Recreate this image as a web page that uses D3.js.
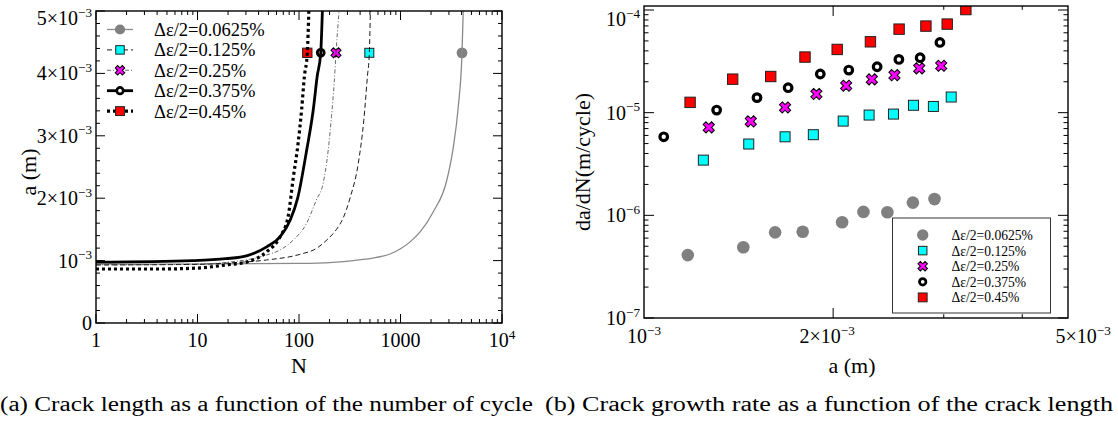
<!DOCTYPE html>
<html><head><meta charset="utf-8">
<script src="https://cdn.jsdelivr.net/npm/d3@7/dist/d3.min.js"></script>
<style>
html,body{margin:0;padding:0;background:#fff;}
svg{display:block;}
</style></head>
<body>
<svg id="chart" width="1118" height="425"></svg>
<script>
// ---------------- DATA ----------------
const seriesLabels = ["Δε/2=0.0625%", "Δε/2=0.125%", "Δε/2=0.25%", "Δε/2=0.375%", "Δε/2=0.45%"];

// (a) crack length a (m) vs number of cycles N
const curveN_0625 = [1, 10, 100, 216, 343, 580, 800, 1000, 1244, 1560, 2100, 2850, 3300, 3700, 4036, 4150];
const curveA_0625 = [0.945e-3, 0.945e-3, 0.955e-3, 0.973e-3, 1.0e-3, 1.05e-3, 1.11e-3, 1.19e-3, 1.30e-3, 1.46e-3, 1.78e-3, 2.28e-3, 2.8e-3, 3.45e-3, 4.33e-3, 5.0e-3];
const curveN_125 = [1, 10, 19, 48, 102, 150, 188, 234, 272, 318, 383, 435, 472, 493, 505];
const curveA_125 = [0.93e-3, 0.94e-3, 0.96e-3, 1.01e-3, 1.10e-3, 1.2e-3, 1.33e-3, 1.5e-3, 1.68e-3, 2.0e-3, 2.55e-3, 3.25e-3, 3.95e-3, 4.33e-3, 5.0e-3];
const curveN_25 = [1, 10, 19, 48, 65, 88, 119, 148, 173, 194, 209, 222, 231.5, 248];
const curveA_25 = [0.93e-3, 0.945e-3, 0.97e-3, 1.09e-3, 1.17e-3, 1.33e-3, 1.60e-3, 1.97e-3, 2.24e-3, 2.77e-3, 3.31e-3, 3.84e-3, 4.33e-3, 5.0e-3];
const curveN_375 = [1, 9, 19, 31, 48, 65, 82, 97, 119, 138, 151, 163.7, 170];
const curveA_375 = [0.975e-3, 1.0e-3, 1.03e-3, 1.08e-3, 1.22e-3, 1.38e-3, 1.65e-3, 2.0e-3, 2.77e-3, 3.41e-3, 3.95e-3, 4.33e-3, 5.0e-3];
const curveN_45 = [1, 4, 10, 19, 31, 48, 65, 78, 88, 98, 106, 113, 120.7, 125];
const curveA_45 = [0.865e-3, 0.865e-3, 0.88e-3, 0.93e-3, 0.98e-3, 1.14e-3, 1.38e-3, 1.70e-3, 2.34e-3, 2.88e-3, 3.41e-3, 3.95e-3, 4.33e-3, 5.0e-3];
// one marker per curve
const markerN = [4036, 493, 231.5, 163.7, 120.7];
const markerA = [4.33e-3, 4.33e-3, 4.33e-3, 4.33e-3, 4.33e-3];

// (b) crack growth rate da/dN (m/cycle) vs crack length a (m)
const rateA_0625 = [1.174e-3, 1.439e-3, 1.617e-3, 1.789e-3, 2.067e-3, 2.235e-3, 2.440e-3, 2.679e-3, 2.900e-3];
const rate_0625 = [4.1e-7, 4.88e-7, 6.83e-7, 6.92e-7, 8.55e-7, 1.08e-6, 1.07e-6, 1.33e-6, 1.44e-6];
const rateA_125 = [1.243e-3, 1.468e-3, 1.677e-3, 1.860e-3, 2.075e-3, 2.282e-3, 2.495e-3, 2.685e-3, 2.888e-3, 3.083e-3];
const rate_125 = [3.45e-6, 4.95e-6, 5.82e-6, 6.1e-6, 8.28e-6, 9.48e-6, 9.69e-6, 1.18e-5, 1.15e-5, 1.42e-5];
const rateA_25 = [1.268e-3, 1.479e-3, 1.677e-3, 1.881e-3, 2.098e-3, 2.305e-3, 2.504e-3, 2.742e-3, 2.972e-3];
const rate_25 = [7.19e-6, 8.22e-6, 1.125e-5, 1.52e-5, 1.83e-5, 2.11e-5, 2.32e-5, 2.7e-5, 2.86e-5];
const rateA_375 = [1.075e-3, 1.305e-3, 1.513e-3, 1.696e-3, 1.908e-3, 2.118e-3, 2.350e-3, 2.545e-3, 2.751e-3, 2.958e-3];
const rate_375 = [5.82e-6, 1.06e-5, 1.40e-5, 1.75e-5, 2.38e-5, 2.60e-5, 2.80e-5, 3.30e-5, 3.43e-5, 4.83e-5];
const rateA_45 = [1.184e-3, 1.384e-3, 1.591e-3, 1.804e-3, 2.030e-3, 2.293e-3, 2.547e-3, 2.810e-3, 3.038e-3, 3.253e-3];
const rate_45 = [1.26e-5, 2.12e-5, 2.25e-5, 3.48e-5, 4.13e-5, 4.90e-5, 6.51e-5, 6.97e-5, 7.29e-5, 1.01e-4];

// ticks
const leftXTicks = [1, 10, 100, 1000, 10000];
const leftXLabels = ["1", "10", "100", "1000", "10^4"];
const leftYTicks = [0, 1e-3, 2e-3, 3e-3, 4e-3, 5e-3];
const leftYLabels = ["0", "10^−3", "2×10^−3", "3×10^−3", "4×10^−3", "5×10^−3"];
const rightXTicks = [1e-3, 2e-3, 5e-3];
const rightXLabels = ["10^−3", "2×10^−3", "5×10^−3"];
const rightXMinor = [3e-3, 4e-3];
const rightYTicks = [1e-7, 1e-6, 1e-5, 1e-4];
const rightYLabels = ["10^−7", "10^−6", "10^−5", "10^−4"];

// ---------------- DRAW ----------------
const svg = d3.select("#chart");
const FONT = "'Liberation Serif', serif";

function txt(g, x, y, size, anchor) {
  return g.append("text").attr("x", x).attr("y", y).attr("text-anchor", anchor || "start")
    .style("font-family", FONT).style("font-size", size + "px");
}
function mathText(sel, label, fs) {
  const parts = label.split("^");
  sel.append("tspan").text(parts[0]);
  if (parts.length > 1) {
    sel.append("tspan").style("font-size", (fs * 0.66) + "px").attr("dy", -fs * 0.42).text(parts[1]);
  }
}

const styles = [
  {stroke: "#8a8a8a", width: 1.3, dash: null},
  {stroke: "#000", width: 0.9, dash: "5,3"},
  {stroke: "#444", width: 0.8, dash: "4,2,1,2"},
  {stroke: "#000", width: 2.8, dash: null},
  {stroke: "#000", width: 3.2, dash: "3,3"}
];

function drawMarker(g, i, cx, cy, scale) {
  const s = scale;
  if (i === 0) {
    g.append("circle").attr("cx", cx).attr("cy", cy).attr("r", 6 * s).attr("fill", "#808080");
  } else if (i === 1) {
    g.append("rect").attr("x", cx - 5 * s).attr("y", cy - 5 * s).attr("width", 10 * s).attr("height", 10 * s)
      .attr("fill", "#00ffff").attr("stroke", "#222").attr("stroke-width", 1);
  } else if (i === 2) {
    g.append("path").attr("d", d3.symbol(d3.symbolCross, 78 * s * s)())
      .attr("transform", `translate(${cx},${cy}) rotate(45)`)
      .attr("fill", "#ff00ff").attr("stroke", "#000").attr("stroke-width", 1);
  } else if (i === 3) {
    g.append("circle").attr("cx", cx).attr("cy", cy).attr("r", 3.8 * s).attr("fill", "#fff")
      .attr("stroke", "#000").attr("stroke-width", 3.2 * s);
  } else {
    g.append("rect").attr("x", cx - 5.2 * s).attr("y", cy - 5.2 * s).attr("width", 10.4 * s).attr("height", 10.4 * s)
      .attr("fill", "#ff0000").attr("stroke", "#222").attr("stroke-width", 1);
  }
}

function hTicks(g, xs, scale, y0, y1, len) {
  xs.forEach(v => {
    const x = scale(v);
    g.append("line").attr("x1", x).attr("x2", x).attr("y1", y1).attr("y2", y1 - len).attr("stroke", "#000").attr("stroke-width", 1);
    g.append("line").attr("x1", x).attr("x2", x).attr("y1", y0).attr("y2", y0 + len).attr("stroke", "#000").attr("stroke-width", 1);
  });
}
function vTicks(g, ys, scale, x0, x1, len) {
  ys.forEach(v => {
    const y = scale(v);
    g.append("line").attr("x1", x0).attr("x2", x0 + len).attr("y1", y).attr("y2", y).attr("stroke", "#000").attr("stroke-width", 1);
    g.append("line").attr("x1", x1).attr("x2", x1 - len).attr("y1", y).attr("y2", y).attr("stroke", "#000").attr("stroke-width", 1);
  });
}

// ===== Panel (a) =====
const L = {x0: 96, x1: 502, y0: 11, y1: 323};
const xL = d3.scaleLog().domain([1, 1e4]).range([L.x0, L.x1]);
const yL = d3.scaleLinear().domain([0, 5e-3]).range([L.y1, L.y0]);
const gA = svg.append("g");
const defs = svg.append("defs");
defs.append("clipPath").attr("id", "clipA")
  .append("rect").attr("x", L.x0).attr("y", L.y0).attr("width", L.x1 - L.x0).attr("height", L.y1 - L.y0);

const leftXMinor = [];
[1, 10, 100, 1000].forEach(d => { for (let m = 2; m <= 9; m++) leftXMinor.push(m * d); });
const leftYMinor = d3.range(0, 5.0001e-3, 2e-4).filter(v => Math.abs(v / 1e-3 - Math.round(v / 1e-3)) > 1e-6);
hTicks(gA, leftXTicks, xL, L.y0, L.y1, 9);
hTicks(gA, leftXMinor, xL, L.y0, L.y1, 4);
vTicks(gA, leftYTicks, yL, L.x0, L.x1, 9);
vTicks(gA, leftYMinor, yL, L.x0, L.x1, 4);

leftXTicks.forEach((v, i) => mathText(txt(gA, xL(v), 347, 20, "middle"), leftXLabels[i], 20));
leftYTicks.forEach((v, i) => {
  const y = yL(v);
  const by = (y - L.y0 < 5) ? y + 14 : y + 7;
  mathText(txt(gA, 92, by, 20, "end"), leftYLabels[i], 20);
});

const curvesN = [curveN_0625, curveN_125, curveN_25, curveN_375, curveN_45];
const curvesA = [curveA_0625, curveA_125, curveA_25, curveA_375, curveA_45];
const plotA = gA.append("g").attr("clip-path", "url(#clipA)");
markerN.forEach((n, i) => drawMarker(plotA, i, xL(n), yL(markerA[i]), 0.9));
const lineA = d3.line().x(d => xL(d[0])).y(d => yL(d[1])).curve(d3.curveMonotoneX);
curvesN.forEach((ns, i) => {
  const pts = ns.map((n, k) => [n, curvesA[i][k]]);
  plotA.append("path").attr("d", lineA(pts)).attr("fill", "none")
    .attr("stroke", styles[i].stroke).attr("stroke-width", styles[i].width)
    .attr("stroke-dasharray", styles[i].dash);
});

gA.append("rect").attr("x", L.x0).attr("y", L.y0).attr("width", L.x1 - L.x0).attr("height", L.y1 - L.y0)
  .attr("fill", "none").attr("stroke", "#000").attr("stroke-width", 1.4);

seriesLabels.forEach((lab, i) => {
  const y = 29.5 + i * 20.4;
  gA.append("line").attr("x1", 107).attr("x2", 133).attr("y1", y).attr("y2", y)
    .attr("stroke", styles[i].stroke).attr("stroke-width", styles[i].width).attr("stroke-dasharray", styles[i].dash);
  drawMarker(gA, i, 120, y, 0.85);
  txt(gA, 154, y + 6.5, 18.5).text(lab);
});

txt(svg, 299, 373, 22, "middle").text("N");
txt(svg, 0, 0, 22, "middle").attr("transform", "translate(36,172) rotate(-90)").text("a (m)");

// ===== Panel (b) =====
const R = {x0: 644, x1: 1068, y0: 6, y1: 318};
const xR = d3.scaleLog().domain([1e-3, 4.73e-3]).range([R.x0, R.x1]);
const yR = d3.scaleLog().domain([1e-7, 1.094e-4]).range([R.y1, R.y0]);
const gB = svg.append("g");
defs.append("clipPath").attr("id", "clipB")
  .append("rect").attr("x", R.x0).attr("y", R.y0).attr("width", R.x1 - R.x0).attr("height", R.y1 - R.y0);

const rightYMinor = [];
[1e-7, 1e-6, 1e-5].forEach(d => { for (let m = 2; m <= 9; m++) rightYMinor.push(m * d); });
vTicks(gB, rightYTicks, yR, R.x0, R.x1, 10);
vTicks(gB, rightYMinor, yR, R.x0, R.x1, 4.5);
hTicks(gB, rightXTicks.filter(v => v > 1e-3 && v < 4.73e-3), xR, R.y0, R.y1, 10);
hTicks(gB, rightXMinor, xR, R.y0, R.y1, 3.8);

rightXTicks.forEach((v, i) => mathText(txt(gB, xR(v) - (i === 1 ? 6 : 0), 343, 20, "middle"), rightXLabels[i], 20));
rightYTicks.forEach((v, i) => {
  const y = yR(v);
  const by = (y - R.y0 < 6) ? y + 16 : y + 7;
  mathText(txt(gB, 640, by, 20, "end"), rightYLabels[i], 20);
});

const ratesA = [rateA_0625, rateA_125, rateA_25, rateA_375, rateA_45];
const rates = [rate_0625, rate_125, rate_25, rate_375, rate_45];
const plotB = gB.append("g").attr("clip-path", "url(#clipB)");
ratesA.forEach((xs, i) => {
  xs.forEach((a, k) => drawMarker(plotB, i, xR(a), yR(rates[i][k]), i === 0 ? 1.05 : 1));
});

gB.append("rect").attr("x", R.x0).attr("y", R.y0).attr("width", R.x1 - R.x0).attr("height", R.y1 - R.y0)
  .attr("fill", "none").attr("stroke", "#000").attr("stroke-width", 1.4);

gB.append("rect").attr("x", 892.5).attr("y", 218).attr("width", 158).attr("height", 95)
  .attr("fill", "#fff").attr("stroke", "#333").attr("stroke-width", 1);
seriesLabels.forEach((lab, i) => {
  const y = 235 + i * 15.6;
  drawMarker(gB, i, 922.7, y, i === 0 ? 0.95 : 0.85);
  txt(gB, 951.5, y + 5, 13.6).text(lab);
});

txt(svg, 852, 373, 22, "middle").text("a (m)");
txt(svg, 0, 0, 22, "middle").attr("transform", "translate(590,162) rotate(-90)").text("da/dN(m/cycle)");

txt(svg, 0, 411, 20).attr("textLength", 533).attr("lengthAdjust", "spacingAndGlyphs")
  .text("(a) Crack length as a function of the number of cycle");
txt(svg, 545, 411, 20).attr("textLength", 568).attr("lengthAdjust", "spacingAndGlyphs")
  .text("(b) Crack growth rate as a function of the crack length");
</script>
</body></html>
